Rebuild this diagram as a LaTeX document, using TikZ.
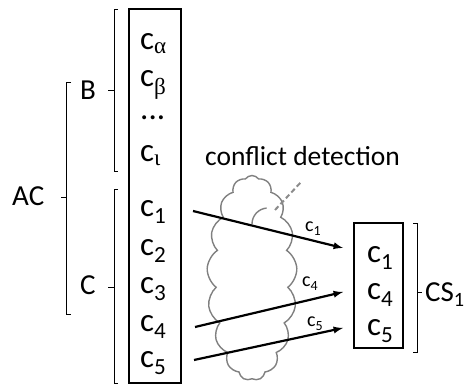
\documentclass[tikz,border=0pt]{standalone}
\usepackage{fontspec}
\setmainfont{Carlito}
\newfontfamily\grk{Liberation Serif}
\usetikzlibrary{positioning,shapes.symbols}

\newcommand{\ci}[1]{c\textsubscript{#1}}

\begin{document}
\begin{tikzpicture}[x=1pt, y=-1pt,
        lbl/.style = {font=\fontsize{29}{29}\selectfont, inner sep=0pt, anchor=base west},
        item/.style = {font=\fontsize{33}{33}\selectfont, inner sep=0pt, anchor=base west},
        tag/.style = {font=\fontsize{20}{20}\selectfont, inner sep=0pt, anchor=base west},
        brace/.style = {draw, line width=0.9pt},
        flow/.style = {draw, line width=2.2pt, -latex},
        puffline/.style = {draw=black!50, line width=1.4pt}]
        \useasboundingbox (0,0) rectangle (467,385);

        % constraint list
        \node [draw, line width=1.1pt, minimum width=52pt, minimum height=374pt, inner sep=0pt] (list) at (155,196) {};
        \node [item] (ca) at (140,50) {\ci{\grk α}};
        \node [item] (cb) at (140,87) {\ci{\grk β}};
        \node [item] (dots) at (140,120) {...};
        \node [item] (ci) at (140,162) {\ci{\grk ι}};
        \node [item] (c1) at (140,217) {\ci{1}};
        \node [item] (c2) at (140,256) {\ci{2}};
        \node [item] (c3) at (140,294) {\ci{3}};
        \node [item] (c4) at (140,332) {\ci{4}};
        \node [item] (c5) at (140,368) {\ci{5}};

        % groups
        \node [lbl] (AC) at (12,206) {AC};
        \node [lbl] (B) at (80,100) {B};
        \node [lbl] (C) at (80,295) {C};
        \draw [brace] (118,9) -- (114,9) -- (114,171) -- (118,171) (114,90) -- (108,90);
        \draw [brace] (118,189) -- (114,189) -- (114,383) -- (118,383) (114,287) -- (108,287);
        \draw [brace] (71,82) -- (66,82) -- (66,314) -- (71,314) (66,197) -- (61,197);

        % conflict detection
        \node [lbl, font=\fontsize{27.5}{27.5}\selectfont] (det) at (205,166) {conflict detection};
        \node [cloud, cloud puffs=17, cloud puff arc=110, aspect=0.44, puffline,
               minimum width=90pt, minimum height=205pt, inner sep=0pt] (cloud) at (252,278) {};
        \draw [puffline] (252,224) arc [start angle=180, end angle=265, radius=16];
        \coordinate (puff) at (275,210);
        \coordinate (hint) at (302,181);
        \draw [black!45, line width=2pt, dash pattern=on 5pt off 3pt] (puff) -- (hint);

        % conflict set
        \node [draw, line width=1.1pt, minimum width=49pt, minimum height=125pt, inner sep=0pt] (set) at (378.5,285.5) {};
        \node [item] (s1) at (367,263) {\ci{1}};
        \node [item] (s4) at (367,300) {\ci{4}};
        \node [item] (s5) at (367,336) {\ci{5}};
        \node [lbl] (CS) at (425,302) {CS\textsubscript{1}};
        \draw [brace] (413,223) -- (417,223) -- (417,352) -- (413,352) (417,292) -- (422,292);

        % selected constraints
        \coordinate (o1) at (193,211);
        \coordinate (o4) at (195,327);
        \coordinate (o5) at (194,360);
        \coordinate (i1) at (343,248);
        \coordinate (i4) at (343,292);
        \coordinate (i5) at (343,328);
        \draw [flow] (o1) -- (i1);
        \draw [flow] (o4) -- (i4);
        \draw [flow] (o5) -- (i5);
        \node [tag] (t1) at (305,232) {\ci{1}};
        \node [tag] (t4) at (302,287) {\ci{4}};
        \node [tag] (t5) at (307,327) {\ci{5}};
\end{tikzpicture}
\end{document}
